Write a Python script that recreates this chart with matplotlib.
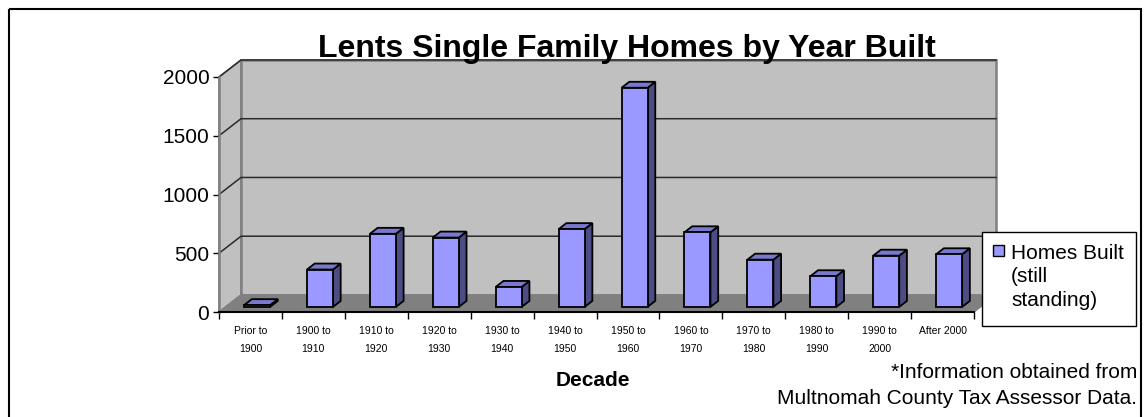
import matplotlib.pyplot as plt
import numpy as np
from matplotlib.patches import Polygon, Rectangle

plt.rcParams["font.family"] = ["Liberation Sans", "DejaVu Sans"]

CATEGORIES = [
    "Prior to\n1900", "1900 to\n1910", "1910 to\n1920", "1920 to\n1930",
    "1930 to\n1940", "1940 to\n1950", "1950 to\n1960", "1960 to\n1970",
    "1970 to\n1980", "1980 to\n1990", "1990 to\n2000", "After 2000",
]
HOMES_BUILT = [15, 318, 622, 590, 170, 662, 1865, 635, 402, 261, 436, 448]
Y_TICKS = [0, 500, 1000, 1500, 2000]

TITLE = "Lents Single Family Homes by Year Built"
X_LABEL = "Decade"
LEGEND_LABEL = "Homes Built\n(still\nstanding)"
NOTE_LINES = ["*Information obtained from", "Multnomah County Tax Assessor Data."]

# colours of the 3-D look
WALL = "#C0C0C0"
FLOOR = "#808080"
EDGE_GRAY = "#808080"
BAR_FRONT = "#9999FF"
BAR_TOP = "#7878CC"
BAR_SIDE = "#4D4D85"

W, H = 1144, 417
fig = plt.figure(figsize=(W / 100, H / 100), dpi=100)

# main axes = front plane of the 3-D box
left, right, bottom, top = 219, 974, 312, 77
ax = fig.add_axes([left / W, (H - bottom) / H, (right - left) / W, (bottom - top) / H])
n = len(CATEGORIES)
ymax = Y_TICKS[-1]
ax.set_xlim(0, n)
ax.set_ylim(0, ymax)
ax.patch.set_visible(False)

# depth of the box in data units
DX = 0.35
DY = 145

# walls and floor
side = Polygon([(0, 0), (0, ymax), (DX, ymax + DY), (DX, DY)], closed=True,
               facecolor=WALL, edgecolor=EDGE_GRAY, lw=1.2, clip_on=False, zorder=1)
back = Polygon([(DX, DY), (n + DX, DY), (n + DX, ymax + DY), (DX, ymax + DY)], closed=True,
               facecolor=WALL, edgecolor=EDGE_GRAY, lw=1.8, clip_on=False, zorder=1)
floor = Polygon([(0, 0), (n, 0), (n + DX, DY), (DX, DY)], closed=True,
                facecolor=FLOOR, edgecolor=EDGE_GRAY, lw=1.0, clip_on=False, zorder=1)
for p in (side, back, floor):
    ax.add_patch(p)

# gridlines across side wall and back wall
for v in Y_TICKS[1:]:
    ax.plot([0, DX, n + DX], [v, v + DY, v + DY], color="#2a2a2a", lw=1.1,
            clip_on=False, zorder=2)

# 3-D columns
bw = 0.413
d0, d1 = 0.3, 0.65
bdx = (d1 - d0) * DX
bdy = (d1 - d0) * DY
for i, val in enumerate(HOMES_BUILT):
    xc = i + 0.5 + d0 * DX
    x0, x1 = xc - bw / 2, xc + bw / 2
    y0 = d0 * DY
    y1 = y0 + val
    front = Polygon([(x0, y0), (x1, y0), (x1, y1), (x0, y1)], closed=True,
                    facecolor=BAR_FRONT, edgecolor="black", lw=1.3, clip_on=False, zorder=4)
    rside = Polygon([(x1, y0), (x1 + bdx, y0 + bdy), (x1 + bdx, y1 + bdy), (x1, y1)], closed=True,
                    facecolor=BAR_SIDE, edgecolor="black", lw=1.3, clip_on=False, zorder=3)
    topf = Polygon([(x0, y1), (x1, y1), (x1 + bdx, y1 + bdy), (x0 + bdx, y1 + bdy)], closed=True,
                   facecolor=BAR_TOP, edgecolor="black", lw=1.3, clip_on=False, zorder=3)
    for p in (rside, topf, front):
        ax.add_patch(p)

# axes lines and ticks
for s in ("top", "right"):
    ax.spines[s].set_visible(False)
ax.spines["left"].set_color(EDGE_GRAY)
ax.spines["left"].set_linewidth(1.8)
ax.spines["bottom"].set_color("black")
ax.spines["bottom"].set_linewidth(1.5)
ax.spines["left"].set_zorder(5)
ax.spines["bottom"].set_zorder(5)

ax.set_yticks(Y_TICKS)
ax.set_yticklabels([str(t) for t in Y_TICKS], fontsize=15)
ax.tick_params(axis="y", length=4, width=1, direction="out", color="black", pad=3)

ax.set_xticks(np.arange(n + 1))
ax.set_xticklabels([])
ax.tick_params(axis="x", which="major", length=5, width=1, direction="out", color="black")
ax.set_xticks(np.arange(n) + 0.5, minor=True)
ax.set_xticklabels(CATEGORIES, minor=True, fontsize=7.5, linespacing=2.0)
ax.tick_params(axis="x", which="minor", length=0, pad=10)

# overlay in pixel space for frame, title, legend and note
ov = fig.add_axes([0, 0, 1, 1], zorder=10)
ov.set_xlim(0, W)
ov.set_ylim(H, 0)
ov.axis("off")
ov.patch.set_visible(False)

ov.add_patch(Rectangle((9, 9), 1132, 440, fill=False, edgecolor="black", lw=1.5))
ov.text(627, 57, TITLE, ha="center", va="baseline", fontsize=23, fontweight="bold")
ov.text(593, 381, X_LABEL, ha="center", va="center", fontsize=15, fontweight="bold")

ov.add_patch(Rectangle((982, 232), 154, 94, facecolor="white", edgecolor="black", lw=1.0))
ov.add_patch(Rectangle((993, 245), 11, 11, facecolor=BAR_FRONT, edgecolor="black", lw=1.0))
ov.text(1011, 277, LEGEND_LABEL, ha="left", va="center", fontsize=15, linespacing=1.32)

ov.text(1137, 373, NOTE_LINES[0], ha="right", va="center", fontsize=15)
ov.text(1137, 399, NOTE_LINES[1], ha="right", va="center", fontsize=15)

fig.savefig("out.png", dpi=100)
